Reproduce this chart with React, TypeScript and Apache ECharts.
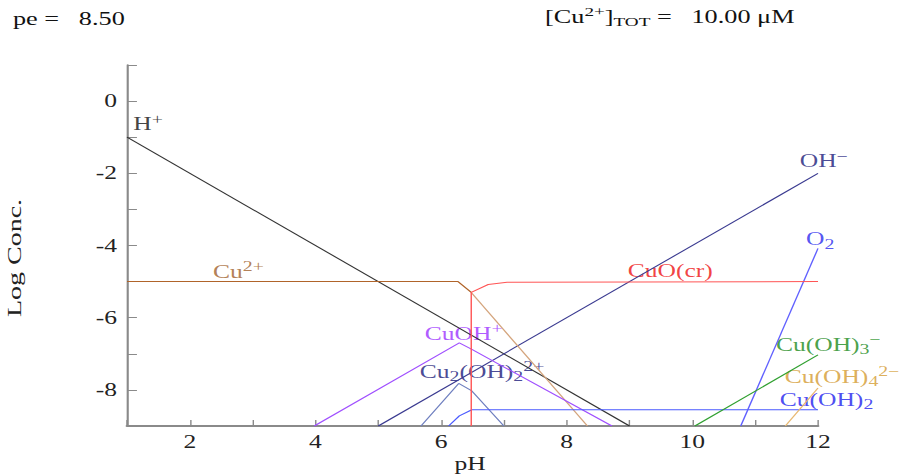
import React, { useEffect, useRef } from "react";
import * as echarts from "echarts";

const xRange = [1, 12];
const yRange = [-9, 1];

const hPlus = [[1, -1], [9, -9]];
const ohMinus = [[5, -9], [12, -2]];
const cu2Free = [[1, -5], [6.27, -5], [6.48, -5.3]];
const cu2Precip = [[6.48, -5.3], [8.33, -9]];
const cuoCr = [[6.48, -9], [6.48, -5.3], [6.75, -5.08], [7.05, -5.02], [12, -5]];
const cuOHPlus = [[3.98, -9], [6.29, -6.7], [6.49, -6.88], [8.72, -9]];
const cu2OH2 = [[5.68, -9], [6.28, -7.82], [6.49, -8.03], [7.0, -9]];
const cuOH2 = [[6.12, -9], [6.29, -8.72], [6.49, -8.55], [12, -8.55]];
const o2 = [[10.77, -9], [12, -4.08]];
const cuOH3 = [[10.04, -9], [12, -7.03]];
const cuOH4 = [[11.48, -9], [12, -7.95]];

// label anchors [pH, logC, rich text, color]
const labels: [number, number, string, string][] = [
  [1.1, -0.64, "{m|H}{sup|+}", "#111111"],
  [11.71, -1.67, "{m|OH}{sup|−}", "#1a1a7a"],
  [11.81, -3.83, "{m|O}{sub|2}", "#2a2aee"],
  [2.37, -4.72, "{m|Cu}{sup|2+}", "#a0602a"],
  [8.97, -4.69, "{m|CuO(cr)}", "#ee1111"],
  [5.74, -6.44, "{m|CuOH}{sup|+}", "#9b30ff"],
  [5.66, -7.5, "{m|Cu}{sub|2}{m|(OH)}{sub|2}{sup|2+}", "#1a1a7a"],
  [11.33, -6.75, "{m|Cu(OH)}{sub|3}{sup|−}", "#1a8a1a"],
  [11.47, -7.64, "{m|Cu(OH)}{sub|4}{sup|2−}", "#d49a30"],
  [11.39, -8.28, "{m|Cu(OH)}{sub|2}", "#2020ee"],
];

const FONT = "'Liberation Serif', 'Times New Roman', serif";
const PAGE_W = 904;
const PAGE_H = 475;
const STRETCH = 1.42;
const INNER_W = Math.round(PAGE_W / STRETCH);
const SX = PAGE_W / INNER_W;

function lineSeries(data: number[][], color: string) {
  return {
    type: "line",
    data,
    symbol: "none",
    lineStyle: { color, width: 1 },
    silent: true,
  };
}

export default function App() {
  const ref = useRef<HTMLDivElement>(null);
  useEffect(() => {
    if (!ref.current) return;
    const chart = echarts.init(ref.current, undefined, { renderer: "svg" });
    const rich = (color: string) => ({
      m: { fontSize: 18, fontFamily: FONT, color, lineHeight: 24, verticalAlign: "middle" },
      sup: { fontSize: 14, fontFamily: FONT, color, lineHeight: 14, verticalAlign: "top" },
      sub: { fontSize: 14, fontFamily: FONT, color, lineHeight: 14, verticalAlign: "bottom" },
    });
    const hdrRich = {
      m: { fontSize: 18.5, fontFamily: FONT, fill: "#111", lineHeight: 24, verticalAlign: "middle" },
      sup: { fontSize: 13.5, fontFamily: FONT, fill: "#111", lineHeight: 12, verticalAlign: "top" },
      sub: { fontSize: 13.5, fontFamily: FONT, fill: "#111", lineHeight: 12, verticalAlign: "bottom" },
    };
    chart.setOption({
      animation: false,
      backgroundColor: "#ffffff",
      grid: { left: 127 / SX, right: 86 / SX, top: 65, bottom: 49 },
      xAxis: {
        type: "value",
        min: xRange[0],
        max: xRange[1],
        interval: 1,
        axisLine: { onZero: false, lineStyle: { color: "#8a8a8a", width: 2 } },
        axisTick: { inside: true, length: 6, lineStyle: { color: "#8a8a8a", width: 1 } },
        axisLabel: {
          fontFamily: FONT,
          fontSize: 18,
          color: "#222",
          margin: 7,
          formatter: (v: number) => (v % 2 === 0 ? String(v) : ""),
        },
        splitLine: { show: false },
      },
      yAxis: {
        type: "value",
        min: yRange[0],
        max: yRange[1],
        interval: 1,
        axisLine: { show: true, onZero: false, lineStyle: { color: "#8a8a8a", width: 1.5 } },
        axisTick: { show: true, inside: true, length: 7, lineStyle: { color: "#8a8a8a", width: 1 } },
        axisLabel: {
          fontFamily: FONT,
          fontSize: 18,
          color: "#222",
          margin: 7,
          formatter: (v: number) => (v % 2 === 0 && v <= 0 ? String(v) : ""),
        },
        splitLine: { show: false },
      },
      series: [
        lineSeries(hPlus, "#333333"),
        lineSeries(ohMinus, "#3a3a90"),
        lineSeries(cu2Free, "#b0642a"),
        lineSeries(cu2Precip, "#d4a47c"),
        lineSeries(cuOHPlus, "#a050ff"),
        lineSeries(cu2OH2, "#7080c0"),
        lineSeries(cuOH2, "#4a5aff"),
        lineSeries(o2, "#6060ff"),
        lineSeries(cuOH3, "#30a030"),
        lineSeries(cuOH4, "#e8b870"),
        lineSeries(cuoCr, "#ff5555"),
        {
          type: "scatter",
          symbolSize: 0,
          silent: true,
          data: labels.map(([x, y, t, c]) => ({
            value: [x, y],
            label: {
              show: true,
              position: [0, 0],
              align: "left",
              verticalAlign: "middle",
              formatter: t,
              rich: rich(c),
            },
          })),
        },
      ],
      graphic: [
        {
          type: "text",
          x: 13 / SX,
          y: 7,
          style: { text: "{m|pe =   8.50}", rich: hdrRich },
        },
        {
          type: "text",
          x: 545 / SX,
          y: 5,
          style: { text: "{m|[Cu}{sup|2+}{m|]}{sub|TOT}{m| =   10.00 μM}", rich: hdrRich },
        },
        {
          type: "text",
          x: 14 / SX,
          y: 258,
          rotation: Math.PI / 2,
          scaleX: 2.0,
          style: {
            text: "Log Conc.",
            fontFamily: FONT,
            fontSize: 14,
            fill: "#222",
            align: "center",
            verticalAlign: "middle",
          },
        },
        {
          type: "text",
          x: 470 / SX,
          y: 464,
          style: {
            text: "pH",
            fontFamily: FONT,
            fontSize: 18,
            fill: "#222",
            align: "center",
            verticalAlign: "middle",
          },
        },
      ],
    });
    return () => chart.dispose();
  }, []);
  return (
    <div style={{ position: "fixed", left: 0, top: 0, width: PAGE_W, height: PAGE_H, overflow: "hidden", background: "#fff" }}>
      <div
        ref={ref}
        style={{ width: INNER_W, height: PAGE_H, transform: `scaleX(${SX})`, transformOrigin: "0 0" }}
      />
    </div>
  );
}
